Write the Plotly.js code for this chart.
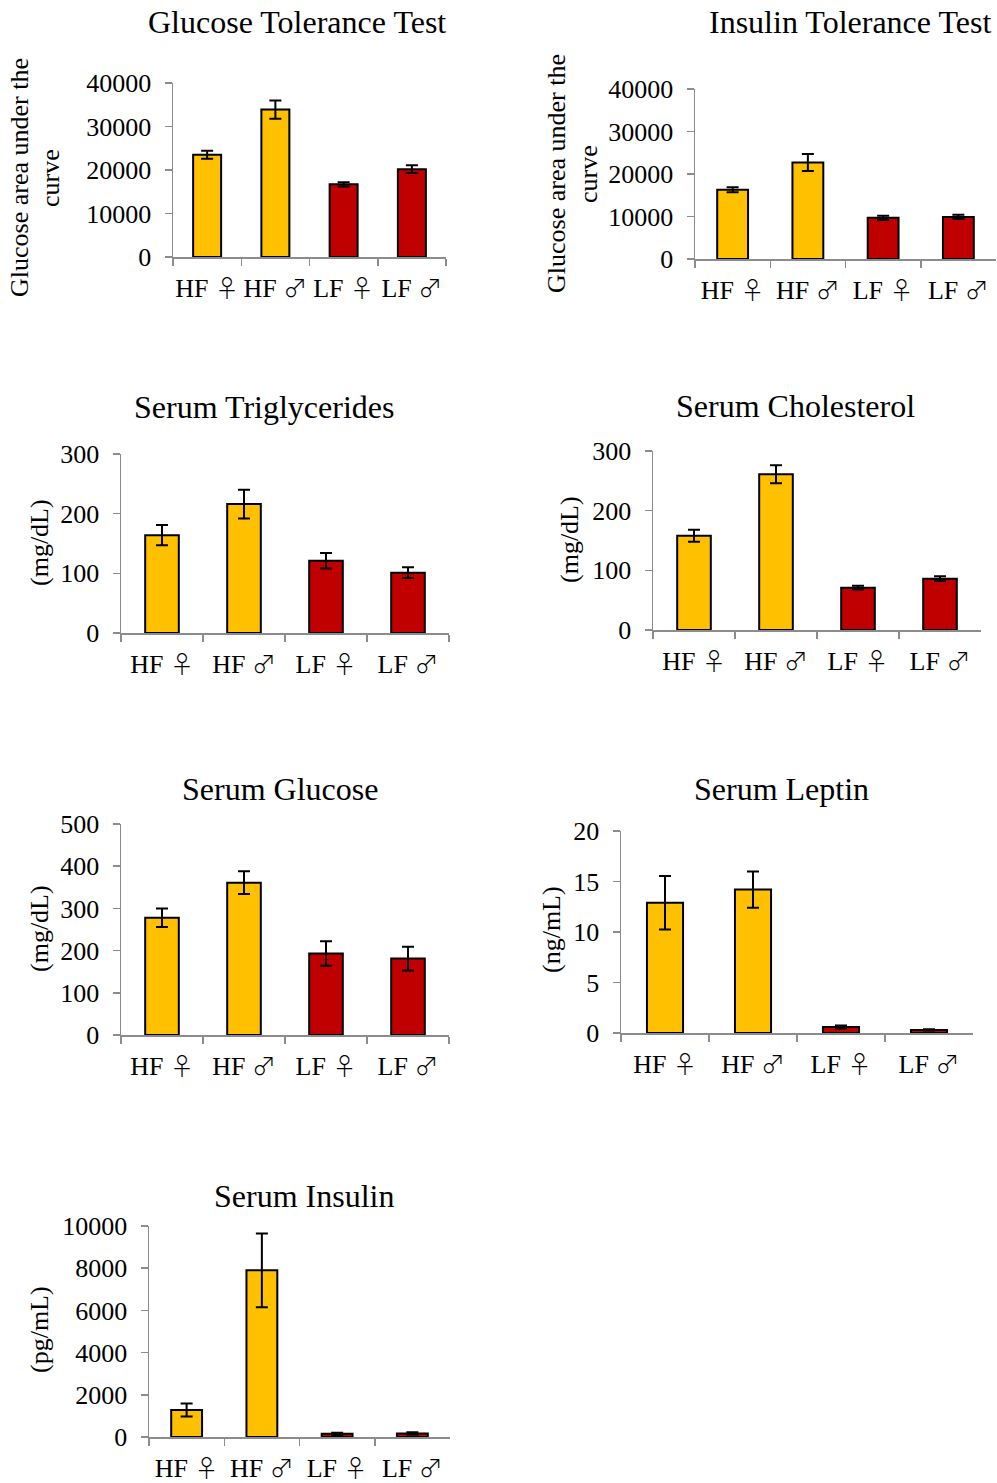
<!DOCTYPE html>
<html>
<head>
<meta charset="utf-8">
<script src="https://cdn.plot.ly/plotly-3.0.1.min.js"></script>
<style>
  html, body { margin: 0; padding: 0; background: #fff; }
  #chart { width: 997px; height: 1483px; }
</style>
</head>
<body>
<div id="chart"></div>
<script>
// Groups: diet (HF / LF) by sex
const groups = ['HF ♀', 'HF ♂', 'LF ♀', 'LF ♂'];

// Glucose tolerance test (AUC)
const gttMean = [23500, 33900, 16700, 20200];
const gttErr  = [900, 2100, 500, 900];

// Insulin tolerance test (glucose AUC)
const ittMean = [16300, 22700, 9700, 9900];
const ittErr  = [600, 2000, 500, 500];

// Serum triglycerides (mg/dL)
const tgMean = [164, 216, 121, 101];
const tgErr  = [17, 24, 13, 9];

// Serum cholesterol (mg/dL)
const cholMean = [158, 261, 71, 86];
const cholErr  = [10, 15, 3, 4];

// Serum glucose (mg/dL)
const gluMean = [278, 361, 193, 181];
const gluErr  = [22, 27, 29, 28];

// Serum leptin (ng/mL)
const lepMean = [12.9, 14.2, 0.6, 0.3];
const lepErr  = [2.65, 1.8, 0.15, 0.06];

// Serum insulin (pg/mL)
const insMean = [1280, 7900, 150, 170];
const insErr  = [310, 1750, 50, 50];

const W = 997, H = 1483;
const HF_COLOR = '#FFC000';
const LF_COLOR = '#C00000';
const barColors = [HF_COLOR, HF_COLOR, LF_COLOR, LF_COLOR];
const FONT = 'Liberation Serif, Times New Roman, serif';

// Sex symbols drawn with thin, full-height CJK glyphs
const groupLabels = groups.map(g =>
  g.replace(/ ([♀♂])/, ' <span style="font-family:Noto Sans CJK JP;font-weight:300;font-size:24px">$1</span>'));

// Panel placement in pixels: plot box [x0, x1] and [yTop, yBottom]
const panels = [
  { title: 'Glucose Tolerance Test', mean: gttMean, err: gttErr, max: 40000, dtick: 10000,
    box: [173, 446, 83, 257], ytitle: ['Glucose area under the', 'curve'], ytx: [20, 51], yty: 178, tx: 297, ty: 22 },
  { title: 'Insulin Tolerance Test', mean: ittMean, err: ittErr, max: 40000, dtick: 10000,
    box: [695, 996, 89, 259], ytitle: ['Glucose area under the', 'curve'], ytx: [556, 588], yty: 174, tx: 850, ty: 22 },
  { title: 'Serum Triglycerides', mean: tgMean, err: tgErr, max: 300, dtick: 100,
    box: [121, 449, 454, 633], ytitle: ['(mg/dL)'], ytx: [39], yty: 543, tx: 264, ty: 407 },
  { title: 'Serum Cholesterol', mean: cholMean, err: cholErr, max: 300, dtick: 100,
    box: [653, 981, 451, 630], ytitle: ['(mg/dL)'], ytx: [569], yty: 540, tx: 795, ty: 406 },
  { title: 'Serum Glucose', mean: gluMean, err: gluErr, max: 500, dtick: 100,
    box: [121, 449, 824, 1035], ytitle: ['(mg/dL)'], ytx: [39], yty: 929, tx: 280, ty: 789 },
  { title: 'Serum Leptin', mean: lepMean, err: lepErr, max: 20, dtick: 5,
    box: [621, 973, 831, 1033], ytitle: ['(ng/mL)'], ytx: [551], yty: 930, tx: 781, ty: 789 },
  { title: 'Serum Insulin', mean: insMean, err: insErr, max: 10000, dtick: 2000,
    box: [149, 450, 1226, 1437], ytitle: ['(pg/mL)'], ytx: [39], yty: 1330, tx: 304, ty: 1196 }
];

const data = [];
const layout = {
  width: W, height: H,
  margin: { l: 0, r: 0, t: 0, b: 0 },
  paper_bgcolor: '#ffffff',
  plot_bgcolor: 'rgba(0,0,0,0)',
  showlegend: false,
  font: { family: FONT, color: '#000', size: 26 },
  annotations: []
};

panels.forEach((p, i) => {
  const n = i + 1;
  const xa = n === 1 ? 'x' : 'x' + n;
  const ya = n === 1 ? 'y' : 'y' + n;
  data.push({
    type: 'bar',
    x: groups,
    y: p.mean,
    xaxis: xa, yaxis: ya,
    width: 0.41,
    marker: { color: barColors, line: { color: '#000', width: 2 } },
    error_y: { type: 'data', array: p.err, visible: true, color: '#000', thickness: 2, width: 6 },
    hoverinfo: 'x+y'
  });
  const [x0, x1, yt, yb] = p.box;
  layout['xaxis' + (n === 1 ? '' : n)] = {
    domain: [x0 / W, x1 / W],
    anchor: ya,
    type: 'category',
    range: [-0.5, 3.5],
    tickmode: 'array', tickvals: groups, ticktext: groupLabels,
    tickangle: 0,
    showline: true, linecolor: '#8c8c8c', linewidth: 1.5,
    ticks: 'outside', tickson: 'boundaries', ticklen: 7, tickcolor: '#8c8c8c', tickwidth: 1.5,
    ticklabelstandoff: 7,
    showgrid: false, zeroline: false,
    tickfont: { family: FONT, size: 26, color: '#000' },
    fixedrange: true
  };
  layout['yaxis' + (n === 1 ? '' : n)] = {
    domain: [1 - yb / H, 1 - yt / H],
    anchor: xa,
    range: [0, p.max],
    dtick: p.dtick, tick0: 0, tickformat: 'd',
    showline: true, linecolor: '#8c8c8c', linewidth: 1.5,
    ticks: 'outside', ticklen: 7, tickcolor: '#8c8c8c', tickwidth: 1.5,
    ticklabelstandoff: 8,
    showgrid: false, zeroline: false,
    tickfont: { family: FONT, size: 26, color: '#000' },
    fixedrange: true
  };
  // Panel title
  layout.annotations.push({
    text: p.title, xref: 'paper', yref: 'paper',
    x: p.tx / W, y: 1 - p.ty / H, xanchor: 'center', yanchor: 'middle',
    showarrow: false, font: { family: FONT, size: 32, color: '#000' }
  });
  // Y-axis title (one or two rotated lines)
  p.ytitle.forEach((line, k) => {
    layout.annotations.push({
      text: line, xref: 'paper', yref: 'paper',
      x: p.ytx[k] / W, y: 1 - p.yty / H, xanchor: 'center', yanchor: 'middle',
      textangle: -90, showarrow: false, font: { family: FONT, size: 26, color: '#000' }
    });
  });
});

Plotly.newPlot('chart', data, layout, { displayModeBar: false, staticPlot: true });
</script>
</body>
</html>
